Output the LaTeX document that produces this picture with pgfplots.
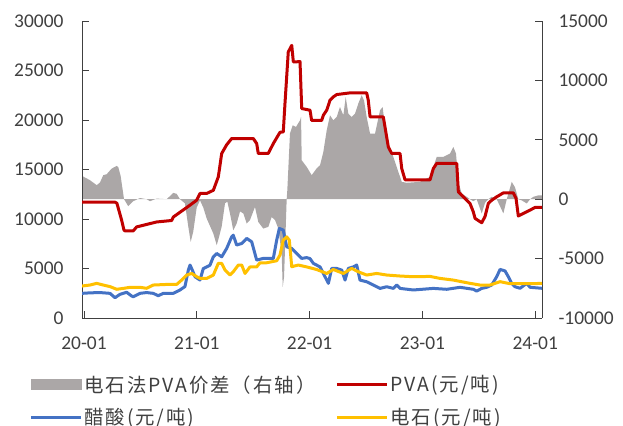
\documentclass[border=0pt]{standalone}
\usepackage{fontspec}
\setmainfont{Carlito}
\newfontfamily\cjk[LetterSpace=10]{Noto Sans CJK SC}
\usepackage{pgfplots}
\pgfplotsset{compat=1.18}
\usepackage{pgfplotstable}

\definecolor{pvared}{RGB}{192,0,0}
\definecolor{hacblue}{RGB}{68,114,196}
\definecolor{carbyellow}{RGB}{255,192,0}
\definecolor{spreadgray}{RGB}{171,167,167}
\definecolor{txtgray}{RGB}{64,64,64}

% months since 2020-01
\pgfplotstableread{
x y
-0.21 0
-0.21 1960
0.64 1600
1.35 1180
1.70 1400
2.05 2020
2.41 2100
2.95 2580
3.48 2800
3.65 2700
3.90 1960
4.12 760
4.26 0
4.71 -590
5.24 -170
5.96 100
6.66 0
7.02 -170
7.73 50
8.80 0
9.50 530
9.86 450
10.21 0
10.74 -350
11.10 -2330
11.35 -3590
11.63 -2700
11.99 -700
12.34 -100
12.69 -700
13.05 -1620
13.76 -2890
14.12 -3870
14.29 -3400
14.65 -2300
15.00 -350
15.25 -200
15.53 -1200
15.88 -2610
16.24 -2050
16.60 -1030
16.95 -1200
17.31 -2050
17.66 -1750
18.19 -650
18.54 -1910
19.07 -2470
19.61 -2330
19.96 -1500
20.32 -1750
20.67 -2470
21.03 -4570
21.14 -7380
21.28 -6550
21.42 -3360
21.56 0
21.63 760
21.91 5520
22.20 6220
22.55 6080
22.98 6640
23.09 6920
23.16 3280
23.69 2720
24.22 2020
24.74 2580
25.11 2860
25.46 3980
25.82 5800
26.17 7060
26.52 6640
26.88 6920
27.23 7760
27.59 7060
27.84 8600
28.12 7200
28.48 6920
28.83 7200
29.18 8050
29.54 8750
29.79 8300
30.07 6920
30.43 5520
30.96 5520
31.49 7480
31.77 7760
32.02 6080
32.37 4680
32.73 3980
33.26 2720
33.80 1460
34.32 1380
35.74 1460
36.81 1880
37.52 3560
38.22 3560
38.94 3840
39.29 4400
39.57 3840
39.82 1460
40.18 480
40.71 200
41.06 0
41.41 -170
41.77 0
42.31 -1200
42.66 -300
43.01 0
43.37 200
43.90 0
44.26 -600
44.61 -1200
44.97 0
45.50 1460
45.85 1000
46.20 0
46.56 -100
47.10 -360
47.45 0
47.80 200
48.33 320
48.72 320
48.72 0
}\spread

\pgfplotstableread{
x y
-0.21 11700
3.30 11700
3.50 11600
4.00 9900
4.25 8900
4.36 8800
5.24 8800
5.60 9200
6.66 9450
7.73 9700
9.33 9850
9.50 10200
10.39 10800
11.28 11400
11.99 11900
12.34 12580
13.05 12580
13.76 12900
14.29 14260
14.65 16620
15.18 17500
15.71 18130
18.01 18130
18.37 17620
18.54 16620
19.60 16620
20.14 17620
20.50 18200
20.85 18760
21.20 18800
21.38 21660
21.73 26870
22.10 27540
22.27 25860
22.98 25900
23.16 21160
24.04 20990
24.22 19950
25.28 19950
25.46 20480
25.82 20990
26.17 22000
26.52 22330
26.88 22570
28.30 22740
30.07 22740
30.24 22000
30.43 20310
31.84 20310
32.02 19300
32.37 17290
32.73 16620
33.62 16620
33.80 15100
34.15 13960
36.81 13960
37.16 15100
37.52 15610
39.65 15610
39.82 12750
40.35 12240
41.06 11570
41.41 10730
41.60 10060
42.31 9620
42.66 10260
43.01 11570
43.37 11900
43.90 12240
44.61 12640
45.67 12640
45.96 12070
46.20 10300
46.74 10560
47.45 10900
47.98 11170
48.72 11170
}\pva

\pgfplotstableread{
x y
-0.21 2490
0.64 2540
1.70 2570
2.77 2490
3.30 2050
3.83 2390
4.54 2600
5.07 2220
5.24 2150
5.96 2490
6.66 2570
7.37 2490
7.90 2250
8.44 2490
9.50 2490
10.21 2830
10.74 3170
11.10 4840
11.28 5350
11.46 4990
11.81 4170
12.34 3830
12.69 4990
13.05 5160
13.40 5330
13.76 6180
14.12 6520
14.65 6180
15.18 7030
15.71 8200
15.88 8370
16.24 7370
16.78 7530
17.31 8040
17.84 7700
18.37 5850
19.07 6020
20.14 6020
20.50 7870
20.78 9050
21.20 8880
21.56 7190
22.10 7030
22.62 6520
23.16 6020
23.69 6100
24.04 6000
24.40 5520
25.11 5160
25.64 4170
26.00 3500
26.35 5010
26.88 5010
27.42 4840
27.77 3830
28.12 5010
28.65 5160
29.01 5350
29.36 3830
30.07 3660
30.78 3330
31.49 2990
32.20 3160
32.90 2990
33.27 3330
33.62 2990
35.03 2830
37.16 2990
38.59 2900
40.00 3100
41.41 2900
41.77 2720
42.31 2990
42.84 3100
43.37 3330
43.90 4170
44.26 4910
44.79 4750
45.14 4170
45.50 3500
45.85 3160
46.38 3000
47.10 3500
47.45 3100
48.72 3000
}\acetic

\pgfplotstableread{
x y
-0.21 3230
0.64 3330
1.35 3500
2.05 3330
2.77 3170
3.48 2900
4.18 2990
4.89 3100
5.96 3100
6.66 3000
7.37 3330
8.80 3390
9.86 3390
10.39 3830
10.92 4340
11.46 4500
11.99 4170
12.34 4000
13.05 4000
13.76 4340
14.29 5520
14.65 5520
15.00 4840
15.53 4340
15.88 4670
16.42 5350
16.78 5350
17.13 4500
17.66 5160
18.37 5160
18.72 5580
19.43 5580
20.50 5780
20.85 6360
21.20 7870
21.56 8200
21.84 7870
22.10 5180
22.80 5350
23.69 5160
24.74 4900
25.82 4500
26.52 4900
27.59 4500
28.48 5010
29.18 4670
30.07 4340
31.14 4500
32.20 4340
33.62 4240
35.03 4170
36.81 4200
37.87 4000
39.29 3830
41.06 3500
42.13 3330
43.19 3330
44.26 3670
45.32 3460
47.45 3460
48.72 3500
}\carbide

\pgfplotsset{
  common/.style={
    scale only axis, width=460bp, height=297bp,
    at={(82bp,108bp)}, anchor=south west,
    xmin=-0.21, xmax=48.72,
    tick align=inside, major tick length=7bp,
    every tick/.style={txtgray, line width=0.8pt},
    axis line style={txtgray, line width=0.8pt},
    ticklabel style={txtgray, font=\fontsize{19.5}{22}\selectfont},
    /pgf/number format/assume math mode=true,
    /pgf/number format/1000 sep={},
    scaled y ticks=false,
  },
}

\begin{document}
\begin{tikzpicture}
\useasboundingbox (0,0) rectangle (623bp,426bp);
\begin{axis}[common,
  axis x line=none, axis y line*=right,
  ymin=-10000, ymax=15000, ytick={-10000,-5000,...,15000},
  yticklabel style={xshift=13bp},
]
\addplot[fill=spreadgray, draw=none] table {\spread} \closedcycle;
\end{axis}
\begin{axis}[common,
  axis x line*=bottom, axis y line*=left,
  ymin=0, ymax=30000, ytick={0,5000,...,30000},
  xtick={0,12,24,36,48}, xticklabels={20-01,21-01,22-01,23-01,24-01},
  yticklabel style={xshift=-15bp},
  xticklabel style={yshift=-15bp},
  legend columns=2,
  legend style={draw=none, fill=none, at={(axis description cs:-0.115,-0.186)}, anchor=north west,
    font=\cjk\fontsize{19.5}{21}\selectfont, text=txtgray,
    /tikz/every even column/.append style={column sep=18bp},
    row sep=11bp, inner sep=0pt},
  legend cell align=left,
  legend image code/.code={\draw[#1] (0bp,0bp) -- (50bp,0bp);},
]
\addlegendimage{legend image code/.code={\fill[spreadgray] (0bp,-5bp) rectangle (50bp,5bp);}}
\addlegendentry{电石法PVA价差（右轴）}
\addplot[pvared, line width=3bp, line join=round] table {\pva};
\addlegendentry{PVA(元/吨)}
\addplot[hacblue, line width=3bp, line join=round] table {\acetic};
\addlegendentry{醋酸(元/吨)}
\addplot[carbyellow, line width=3bp, line join=round] table {\carbide};
\addlegendentry{电石(元/吨)}
\end{axis}
\end{tikzpicture}
\end{document}
